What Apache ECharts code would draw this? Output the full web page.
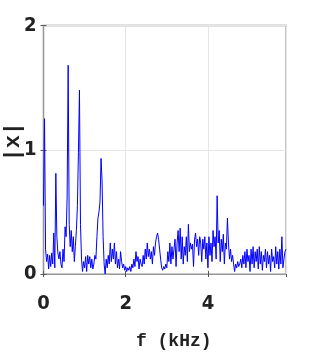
<!DOCTYPE html>
<html>
<head>
<meta charset="utf-8">
<script src="https://cdn.jsdelivr.net/npm/echarts@6/dist/echarts.min.js"></script>
<style>html,body{margin:0;padding:0;background:#fff}#c{width:316px;height:354px}</style>
</head>
<body>
<div id="c"></div>
<script>
// frequency sampling grid (kHz)
const fStart = 0;
const fStep = 0.025;
// spectrum magnitude |x|, one value per frequency bin
const magnitude = [
  0.55, 1.25, 0.20, 0.10, 0.16, 0.04, 0.15, 0.06, 0.17, 0.08,
  0.33, 0.05, 0.81, 0.30, 0.17, 0.12, 0.18, 0.08, 0.05, 0.20,
  0.10, 0.38, 0.30, 0.62, 1.68, 0.40, 0.22, 0.35, 0.18, 0.30,
  0.10, 0.22, 0.35, 0.55, 0.98, 1.48, 0.40, 0.12, 0.02, 0.10,
  0.05, 0.14, 0.02, 0.15, 0.08, 0.14, 0.05, 0.12, 0.04, 0.08,
  0.15, 0.12, 0.30, 0.45, 0.50, 0.58, 0.93, 0.75, 0.30, 0.08,
  0.00, 0.12, 0.05, 0.15, 0.08, 0.25, 0.10, 0.20, 0.12, 0.25,
  0.08, 0.18, 0.05, 0.12, 0.04, 0.18, 0.10, 0.05, 0.08, 0.03,
  0.06, 0.02, 0.05, 0.03, 0.06, 0.02, 0.08, 0.05, 0.12, 0.06,
  0.18, 0.10, 0.14, 0.04, 0.12, 0.08, 0.06, 0.15, 0.08, 0.20,
  0.12, 0.25, 0.14, 0.20, 0.12, 0.18, 0.08, 0.22, 0.15, 0.25,
  0.30, 0.33, 0.28, 0.20, 0.12, 0.05, 0.03, 0.06, 0.04, 0.08,
  0.05, 0.18, 0.10, 0.25, 0.08, 0.22, 0.12, 0.20, 0.28, 0.06,
  0.25, 0.35, 0.18, 0.37, 0.12, 0.30, 0.08, 0.22, 0.15, 0.30,
  0.10, 0.40, 0.18, 0.25, 0.20, 0.24, 0.06, 0.28, 0.33, 0.22,
  0.28, 0.15, 0.30, 0.25, 0.10, 0.28, 0.20, 0.30, 0.12, 0.25,
  0.05, 0.30, 0.15, 0.25, 0.10, 0.35, 0.22, 0.30, 0.12, 0.63,
  0.25, 0.35, 0.10, 0.28, 0.18, 0.32, 0.08, 0.25, 0.20, 0.45,
  0.25, 0.12, 0.20, 0.10, 0.15, 0.08, 0.02, 0.08, 0.05, 0.10,
  0.06, 0.08, 0.12, 0.05, 0.15, 0.08, 0.18, 0.05, 0.20, 0.10,
  0.15, 0.02, 0.20, 0.08, 0.22, 0.05, 0.18, 0.10, 0.20, 0.04,
  0.22, 0.08, 0.18, 0.03, 0.15, 0.10, 0.20, 0.05, 0.18, 0.08,
  0.15, 0.02, 0.20, 0.10, 0.14, 0.05, 0.22, 0.08, 0.18, 0.04,
  0.20, 0.08, 0.30, 0.05, 0.12, 0.18, 0.20
];
const xTicks = [0, 2, 4];
const yTicks = [0, 1, 2];
const xMax = 5.9;

const seriesData = magnitude.map((v, i) => [+(fStart + i * fStep).toFixed(3), v]);

const chart = echarts.init(document.getElementById('c'), null, {renderer: 'canvas'});
const tickFont = {fontFamily: '"Liberation Sans Narrow", "DejaVu Sans Condensed", sans-serif', fontWeight: 'bold', fontSize: 20, color: '#222'};
chart.setOption({
  animation: false,
  grid: {left: 43.5, right: 30, top: 25.5, bottom: 80, containLabel: false, outerBoundsMode: 'none',
    show: true, borderColor: '#c4c4c4', borderWidth: 2, backgroundColor: '#fff'},
  xAxis: [{
    type: 'value', min: 0, max: xMax, interval: 2,
    name: 'f (kHz)', nameLocation: 'middle', nameGap: 58, nameMoveOverlap: false,
    nameTextStyle: {fontFamily: 'Liberation Mono', fontWeight: 'bold', fontSize: 18, color: '#222', padding: [0, 0, 0, 18]},
    axisLine: {show: true, lineStyle: {color: '#999', width: 1}},
    axisTick: {show: true, inside: true, length: 3, lineStyle: {color: '#555'}},
    axisLabel: Object.assign({margin: 20, showMaxLabel: false,
      formatter: v => xTicks.includes(v) ? String(v) : ''}, tickFont),
    splitLine: {show: true, lineStyle: {color: '#e6e6e6', width: 1}}
  }, {
    type: 'value', position: 'top', min: 0, max: xMax, interval: 2,
    axisLine: {show: false}, axisLabel: {show: false}, splitLine: {show: false},
    axisTick: {show: true, inside: true, length: 3, lineStyle: {color: '#555'}}
  }],
  yAxis: [{
    type: 'value', min: 0, max: 2, interval: 1,
    name: '|x|', nameLocation: 'middle', nameGap: 19, nameRotate: 90, nameMoveOverlap: false,
    nameTextStyle: {fontFamily: 'Liberation Mono', fontWeight: 'bold', fontSize: 22, color: '#222', padding: [0, 0, 0, 16]},
    axisLine: {show: true, lineStyle: {color: '#999', width: 1}},
    axisTick: {show: true, inside: true, length: 3, lineStyle: {color: '#555'}},
    axisLabel: Object.assign({margin: 7, formatter: v => yTicks.includes(v) ? String(v) : ''}, tickFont),
    splitLine: {show: true, lineStyle: {color: '#e6e6e6', width: 1}}
  }, {
    type: 'value', position: 'right', min: 0, max: 2, interval: 1,
    axisLine: {show: false}, axisLabel: {show: false}, splitLine: {show: false},
    axisTick: {show: true, inside: true, length: 3, lineStyle: {color: '#555'}}
  }],
  series: [{
    type: 'line', data: seriesData, showSymbol: false, symbol: 'none',
    lineStyle: {color: '#0000ff', width: 1}, silent: true
  }]
});
</script>
</body>
</html>
